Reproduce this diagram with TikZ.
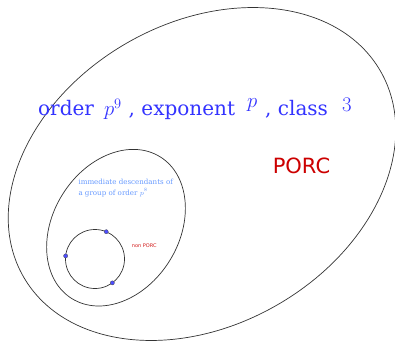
\documentclass[tikz,border=0pt]{standalone}
\usepackage{fontspec}
\newfontfamily\ggbsans{DejaVu Sans}
\newfontfamily\ggbserif{DejaVu Serif}
\definecolor{titleblue}{RGB}{51,51,255}
\definecolor{lightblue}{RGB}{102,153,255}
\definecolor{porcred}{RGB}{204,0,0}
\definecolor{ptblue}{RGB}{77,77,255}
\begin{document}
\begin{tikzpicture}[x=1pt,y=1pt,line cap=round,line join=round,
  curve/.style={line width=0.7pt,black!80},
  pt/.style={draw=black!70,fill=ptblue,line width=0.3pt},
  title/.style={text=titleblue,font=\ggbserif\fontsize{20}{24}\selectfont,inner sep=0pt},
  subtext/.style={text=lightblue,font=\ggbserif\fontsize{7.1}{11}\selectfont,inner sep=0pt,align=left}]
  \useasboundingbox (0,0) rectangle (395,341);
  % big set and the two inside it
  \draw[curve,rotate around={30:(202,167)}] (202,167) ellipse (206 and 151);
  \draw[curve,rotate around={58:(116,113.3)}] (116,113.3) ellipse (83.5 and 63);
  \coordinate (C) at (95,82);
  \draw[curve] (C) circle (29.5);
  \foreach \a in {67.6,174,-54} {\filldraw[pt] (C) ++(\a:29.5) circle (2.1);}
  \node[title,anchor=base west] (title) at (38,225.3)
    {order\hspace{10pt}$p^9$\hspace{7pt}, exponent\hspace{12pt}\raisebox{8pt}{$p$}\hspace{8pt}, class\hspace{14pt}\raisebox{4pt}{$3$}};
  \node[text=porcred,font=\ggbsans\fontsize{21}{24}\selectfont,inner sep=0pt] (porc) at (301.5,175) {PORC};
  \node[subtext,anchor=base west] (desc) at (78.3,146)
    {immediate descendants of\\a group of order $p^8$};
  \node[text=porcred!90!white,font=\ggbsans\fontsize{5}{6}\selectfont,inner sep=0pt,anchor=base west] (nonporc) at (131.7,94) {non PORC};
\end{tikzpicture}
\end{document}
